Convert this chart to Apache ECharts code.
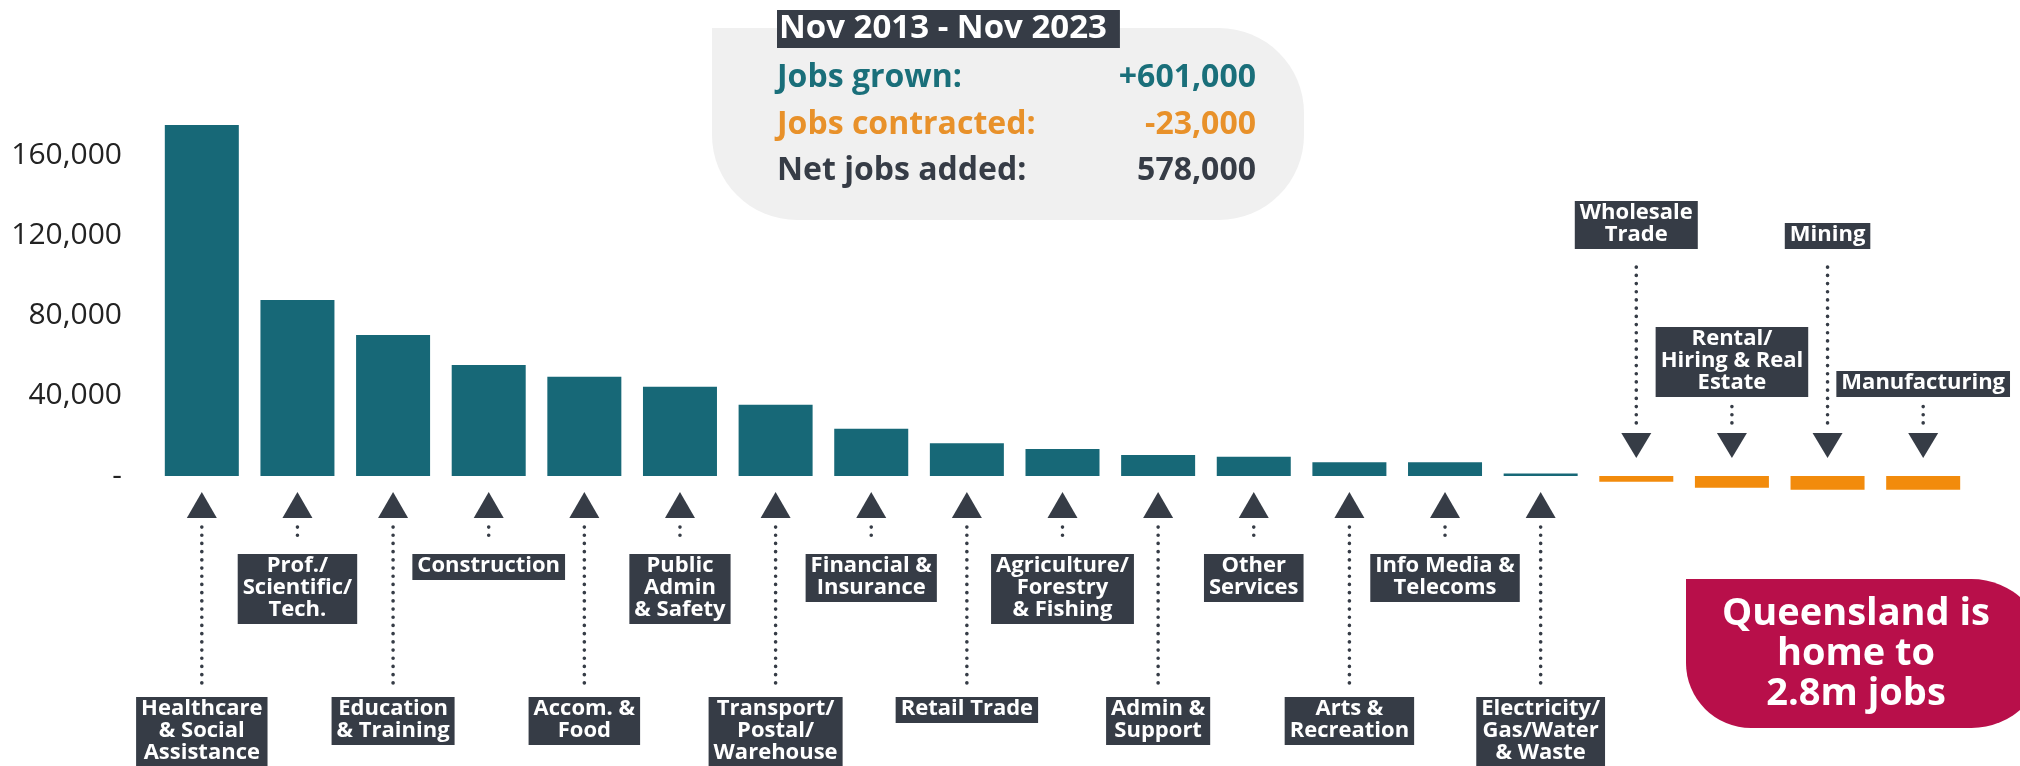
<!DOCTYPE html>
<html>
<head>
<meta charset="utf-8">
<script src="https://cdn.jsdelivr.net/npm/echarts@6/dist/echarts.min.js"></script>
<style>
html,body{margin:0;padding:0;background:#fff;}
#chart{width:2020px;height:766px;}
</style>
</head>
<body>
<div id="chart"></div>
<script>
// ---------- DATA ----------
const categories = [
  'Healthcare & Social Assistance', 'Prof./Scientific/Tech.', 'Education & Training',
  'Construction', 'Accom. & Food', 'Public Admin & Safety', 'Transport/Postal/Warehouse',
  'Financial & Insurance', 'Retail Trade', 'Agriculture/Forestry & Fishing',
  'Admin & Support', 'Other Services', 'Arts & Recreation', 'Info Media & Telecoms',
  'Electricity/Gas/Water & Waste', 'Wholesale Trade', 'Rental/Hiring & Real Estate',
  'Mining', 'Manufacturing'
];
const labelText = [
  'Healthcare\n& Social\nAssistance', 'Prof./\nScientific/\nTech.', 'Education\n& Training',
  'Construction', 'Accom. &\nFood', 'Public\nAdmin\n& Safety', 'Transport/\nPostal/\nWarehouse',
  'Financial &\nInsurance', 'Retail Trade', 'Agriculture/\nForestry\n& Fishing',
  'Admin &\nSupport', 'Other\nServices', 'Arts &\nRecreation', 'Info Media &\nTelecoms',
  'Electricity/\nGas/Water\n& Waste', 'Wholesale\nTrade', 'Rental/\nHiring & Real\nEstate',
  'Mining', 'Manufacturing'
];
const jobChange = [
  175000, 87700, 70300, 55300, 49500, 44500, 35500, 23600, 16300, 13500,
  10500, 9600, 6800, 6800, 1300, -2900, -5900, -6800, -6800
];
// 1 = label placed far from axis, 0 = near
const labelFar = [1,0,1,0,1,0,1,0,1,0,1,0,1,0,1, 1,0,1,0];

const yTicks = [0, 40000, 80000, 120000, 160000];

const periodTitle = 'Nov 2013 - Nov 2023';
const summaryLabels = ['Jobs grown:', 'Jobs contracted:', 'Net jobs added:'];
const summaryValues = ['+601,000', '-23,000', '578,000'];
const calloutText = 'Queensland is\nhome to\n2.8m jobs';

// ---------- STYLE ----------
const TEAL = '#176877';
const ORANGE = '#f28b0c';
const DARK = '#363c46';
const FONT = '"Open Sans", sans-serif';
const summaryColors = ['#1a6f7a', '#e8912a', DARK];

const chart = echarts.init(document.getElementById('chart'), null, {renderer: 'canvas'});

function annot(params, api) {
  const idx = api.value(0);
  const v = api.value(1);
  const p = api.coord([idx, 0]);
  const x = p[0], z = p[1];
  const far = labelFar[idx] === 1;
  const dotStyle = {stroke: DARK, lineWidth: 3.6, lineDash: [0.1, 8.1], lineCap: 'round'};
  const textStyleBase = {
    text: labelText[idx], fill: '#fff', font: 'bold 22px ' + FONT,
    align: 'center', lineHeight: 22, backgroundColor: DARK, padding: [1, 5, 3, 5]
  };
  const children = [];
  if (v >= 0) {
    children.push({type: 'polygon', shape: {points: [[x - 15, z + 42], [x + 15, z + 42], [x, z + 16]]}, style: {fill: DARK}});
    const yEnd = far ? z + 211 : z + 67;
    children.push({type: 'line', shape: {x1: x, y1: z + 51, x2: x, y2: yEnd}, style: dotStyle});
    children.push({type: 'text', x: x, y: far ? z + 221 : z + 78,
      style: Object.assign({}, textStyleBase, {verticalAlign: 'top'})});
  } else {
    children.push({type: 'polygon', shape: {points: [[x - 15, z - 43], [x + 15, z - 43], [x, z - 18]]}, style: {fill: DARK}});
    const yEnd = far ? z - 213 : z - 71;
    children.push({type: 'line', shape: {x1: x, y1: z - 53, x2: x, y2: yEnd}, style: dotStyle});
    children.push({type: 'text', x: x, y: far ? z - 227 : z - 79,
      style: Object.assign({}, textStyleBase, {verticalAlign: 'bottom'})});
  }
  return {type: 'group', children: children};
}

const option = {
  backgroundColor: '#fff',
  animation: false,
  grid: {left: 154, right: 49, top: 74.75, bottom: 209.75},
  xAxis: {
    type: 'category', data: categories,
    axisLine: {show: false}, axisTick: {show: false}, axisLabel: {show: false}, splitLine: {show: false}
  },
  yAxis: {
    type: 'value', min: -40000, max: 200000, interval: 40000,
    axisLine: {show: false}, axisTick: {show: false}, splitLine: {show: false},
    axisLabel: {
      margin: 32, fontSize: 30, color: '#222', fontFamily: FONT,
      formatter: function (v) {
        if (yTicks.indexOf(v) < 0) return '';
        return v === 0 ? '-' : v.toLocaleString('en-US');
      }
    }
  },
  series: [
    {
      type: 'bar', data: jobChange, barWidth: 74,
      itemStyle: {color: function (p) { return p.value >= 0 ? TEAL : ORANGE; }},
      z: 2
    },
    {
      type: 'custom', renderItem: annot, clip: false, z: 3,
      data: jobChange.map(function (v, i) { return [i, v]; }),
      encode: {x: 0, y: 1}, silent: true
    }
  ],
  graphic: [
    {type: 'rect', x: 712, y: 28, shape: {width: 592, height: 192, r: [0, 85, 85, 85]}, style: {fill: '#f0f0f0'}, z: 1},
    {type: 'text', x: 777, y: 29, style: {text: periodTitle, fill: '#fff', font: 'bold 33px ' + FONT,
      verticalAlign: 'middle', lineHeight: 34, backgroundColor: DARK, padding: [2, 13, 2, 2]}, z: 5},
    {type: 'text', x: 777, y: 78, style: {text: summaryLabels[0], fill: summaryColors[0], font: 'bold 32px ' + FONT, verticalAlign: 'middle'}, z: 5},
    {type: 'text', x: 777, y: 125, style: {text: summaryLabels[1], fill: summaryColors[1], font: 'bold 32px ' + FONT, verticalAlign: 'middle'}, z: 5},
    {type: 'text', x: 777, y: 171, style: {text: summaryLabels[2], fill: summaryColors[2], font: 'bold 32px ' + FONT, verticalAlign: 'middle'}, z: 5},
    {type: 'text', x: 1256, y: 78, style: {text: summaryValues[0], fill: summaryColors[0], font: 'bold 32px ' + FONT, align: 'right', verticalAlign: 'middle'}, z: 5},
    {type: 'text', x: 1256, y: 125, style: {text: summaryValues[1], fill: summaryColors[1], font: 'bold 32px ' + FONT, align: 'right', verticalAlign: 'middle'}, z: 5},
    {type: 'text', x: 1256, y: 171, style: {text: summaryValues[2], fill: summaryColors[2], font: 'bold 32px ' + FONT, align: 'right', verticalAlign: 'middle'}, z: 5},
    {type: 'rect', x: 1686, y: 579, shape: {width: 360, height: 149, r: [0, 80, 80, 65]}, style: {fill: '#b80f4a'}, z: 1},
    {type: 'text', x: 1856, y: 654, style: {text: calloutText, fill: '#fff', font: 'bold 38px ' + FONT,
      align: 'center', verticalAlign: 'middle', lineHeight: 40}, z: 5}
  ]
};
chart.setOption(option);
</script>
</body>
</html>
